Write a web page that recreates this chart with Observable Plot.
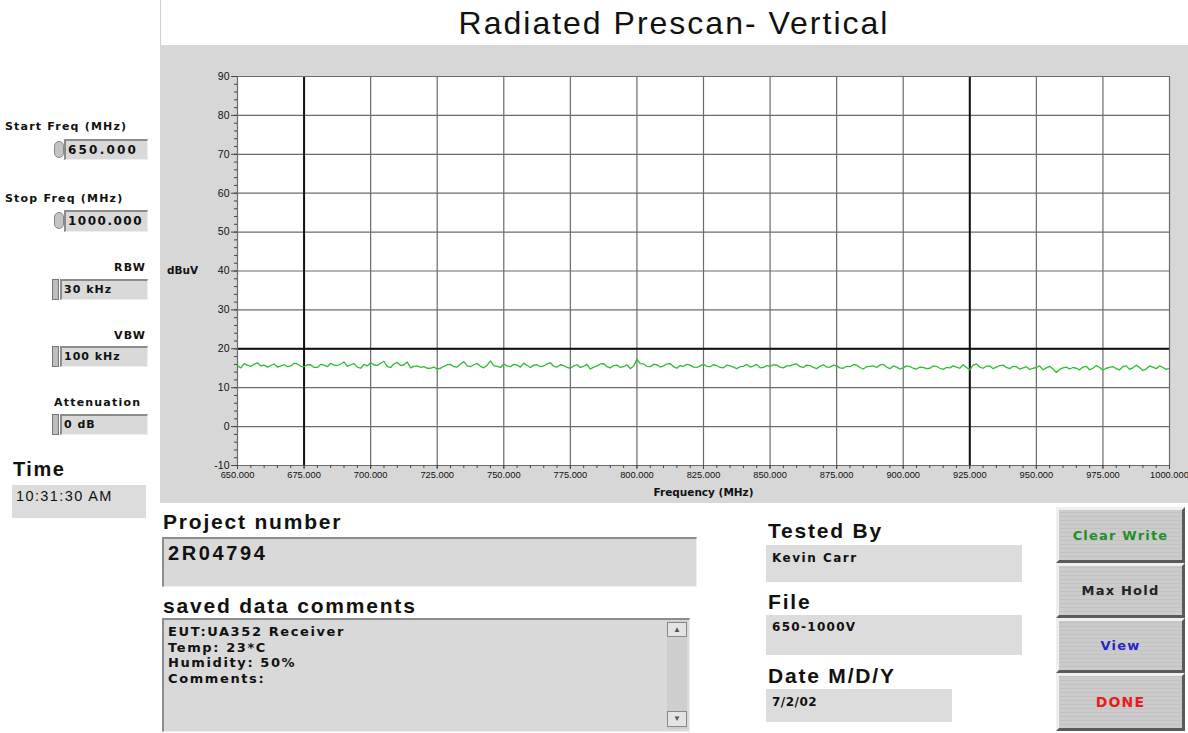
<!DOCTYPE html>
<html>
<head>
<meta charset="utf-8">
<script src="https://cdn.jsdelivr.net/npm/d3@7"></script>
<script src="https://cdn.jsdelivr.net/npm/@observablehq/plot@0.6"></script>
<style>
  html, body { margin: 0; padding: 0; background: #fff; }
  #page { position: relative; width: 1188px; height: 733px; overflow: hidden; font-family: "Liberation Sans", Arial, sans-serif; color: #111; }
  .abs { position: absolute; white-space: nowrap; line-height: 1; }
  .lbl { font-family: "DejaVu Sans", sans-serif; font-weight: bold; font-size: 11px; letter-spacing: 1.2px; }
  .field { position: absolute; background: #d9d9d9; border-top: 2px solid #8c8c8c; border-left: 2px solid #8c8c8c; border-right: 1px solid #eeeeee; border-bottom: 1px solid #eeeeee; box-sizing: border-box; }
  .ftext { position: absolute; font-family: "DejaVu Sans", sans-serif; font-weight: bold; font-size: 11px; line-height: 1; white-space: nowrap; letter-spacing: 1px; }
  .big { font-weight: bold; font-size: 21px; letter-spacing: 1.8px; }
  .flat { position: absolute; background: #dcdcdc; box-sizing: border-box; }
  .btn { position: absolute; left: 1056px; width: 129px; box-sizing: border-box; background: repeating-linear-gradient(0deg, #cbcbcb 0px, #cbcbcb 3px, #c2c2c2 3px, #c2c2c2 4px); border: 3px solid; border-color: #efefef #5a5a5a #5a5a5a #efefef; font-family: "DejaVu Sans", sans-serif; font-weight: bold; font-size: 13px; display: flex; align-items: center; justify-content: center; letter-spacing: 1.2px; }
  .spin { position: absolute; width: 7px; border: 1px solid #777; background: #bdbdbd; box-sizing: border-box; }
  .knob { position: absolute; width: 10px; height: 17px; border-radius: 5px; background: #c4c4c4; border: 1px solid #888; box-sizing: border-box; }
</style>
</head>
<body>
<div id="page">
  <!-- window edge -->
  <div class="abs" style="left:160px;top:0;width:1px;height:45px;background:#cfcfcf;"></div>
  <!-- title -->
  <div class="abs" style="left:160px;width:1028px;top:7px;text-align:center;font-size:32px;letter-spacing:2px;">Radiated Prescan- Vertical</div>

  <!-- left controls -->
  <div class="abs lbl" style="left:5px;top:121px;">Start Freq (MHz)</div>
  <div class="field" style="left:64px;top:139px;width:84px;height:21px;"></div>
  <div class="knob" style="left:54px;top:141px;"></div>
  <div class="ftext" style="left:68px;top:144px;font-size:12px;letter-spacing:2.2px;">650.000</div>

  <div class="abs lbl" style="left:5px;top:193px;">Stop Freq (MHz)</div>
  <div class="field" style="left:64px;top:210px;width:84px;height:22px;"></div>
  <div class="knob" style="left:54px;top:212px;"></div>
  <div class="ftext" style="left:68px;top:215px;font-size:12px;letter-spacing:1.5px;">1000.000</div>

  <div class="abs lbl" style="left:40px;width:106px;text-align:right;top:262px;">RBW</div>
  <div class="field" style="left:60px;top:279px;width:88px;height:21px;"></div>
  <div class="spin" style="left:52px;top:279px;height:21px;"></div>
  <div class="ftext" style="left:64px;top:284px;">30 kHz</div>

  <div class="abs lbl" style="left:40px;width:106px;text-align:right;top:330px;">VBW</div>
  <div class="field" style="left:60px;top:346px;width:88px;height:21px;"></div>
  <div class="spin" style="left:52px;top:346px;height:21px;"></div>
  <div class="ftext" style="left:64px;top:351px;">100 kHz</div>

  <div class="abs lbl" style="left:54px;top:397px;">Attenuation</div>
  <div class="field" style="left:60px;top:414px;width:88px;height:21px;"></div>
  <div class="spin" style="left:52px;top:414px;height:21px;"></div>
  <div class="ftext" style="left:64px;top:419px;">0 dB</div>

  <div class="abs" style="left:13px;top:459px;font-weight:bold;font-size:20px;letter-spacing:1.5px;">Time</div>
  <div class="flat" style="left:12px;top:485px;width:134px;height:33px;"></div>
  <div class="abs" style="left:16px;top:489px;font-size:14.5px;letter-spacing:1.4px;">10:31:30 AM</div>

  <!-- chart -->
  <div id="chart" class="abs" style="left:160px;top:45px;width:1028px;height:458px;"></div>

  <!-- bottom left -->
  <div class="abs big" style="left:163px;top:511px;">Project number</div>
  <div class="field" style="left:162px;top:537px;width:535px;height:50px;"></div>
  <div class="abs" style="left:168px;top:543px;font-weight:bold;font-size:20px;letter-spacing:2.6px;">2R04794</div>

  <div class="abs big" style="left:163px;top:595px;">saved data comments</div>
  <div class="field" style="left:162px;top:618px;width:528px;height:114px;"></div>
  <div class="abs" style="left:168px;top:624px;font-family:'DejaVu Sans',sans-serif;font-weight:bold;font-size:13px;line-height:15.5px;letter-spacing:1.6px;white-space:pre;">EUT:UA352 Receiver
Temp: 23*C
Humidity: 50%
Comments:</div>
  <div class="abs" style="left:667px;top:621px;width:20px;height:108px;background:#cfcfcf;"></div>
  <div class="abs" style="left:667px;top:622px;width:20px;height:15px;background:#e4e4e4;border:1px solid #888;box-sizing:border-box;font-size:8px;text-align:center;line-height:13px;color:#555;">&#9650;</div>
  <div class="abs" style="left:667px;top:711px;width:20px;height:16px;background:#e4e4e4;border:1px solid #888;box-sizing:border-box;font-size:8px;text-align:center;line-height:14px;color:#555;">&#9660;</div>

  <!-- bottom right -->
  <div class="abs big" style="left:768px;top:520px;">Tested By</div>
  <div class="flat" style="left:766px;top:545px;width:256px;height:37px;"></div>
  <div class="ftext" style="left:772px;top:552px;font-size:12px;letter-spacing:1.5px;">Kevin Carr</div>

  <div class="abs big" style="left:768px;top:591px;">File</div>
  <div class="flat" style="left:766px;top:615px;width:256px;height:40px;"></div>
  <div class="ftext" style="left:772px;top:621px;font-size:12px;letter-spacing:1.3px;">650-1000V</div>

  <div class="abs big" style="left:768px;top:665px;">Date M/D/Y</div>
  <div class="flat" style="left:766px;top:689px;width:186px;height:33px;"></div>
  <div class="ftext" style="left:772px;top:696px;font-size:12px;letter-spacing:0.5px;">7/2/02</div>

  <div class="btn" style="top:507px;height:56px;color:#1f8f2a;">Clear Write</div>
  <div class="btn" style="top:563px;height:55px;color:#222;">Max Hold</div>
  <div class="btn" style="top:618px;height:55px;color:#2a24c8;">View</div>
  <div class="btn" style="top:673px;height:58px;color:#e81c1c;font-size:14px;">DONE</div>
</div>

<script>
// Sweep settings (from the panel)
const startFreq = 650;
const stopFreq = 1000;
const stepFreq = 1.25;

const levels = [
  15.6, 15.1, 16.2, 15.8, 15.5, 16.0, 16.4, 15.6, 15.8, 15.3, 15.7, 16.1, 15.3, 15.6, 15.9, 15.4, 15.6, 16.3, 16.1, 15.5,
  15.4, 15.9, 15.9, 15.2, 15.2, 16.0, 15.8, 15.4, 16.3, 15.8, 15.7, 16.1, 16.6, 15.5, 15.9, 16.2, 15.3, 15.0, 16.0, 15.6,
  16.4, 15.9, 15.7, 16.3, 16.8, 15.4, 15.2, 16.1, 16.5, 15.7, 15.9, 16.6, 15.1, 15.5, 15.6, 15.2, 15.4, 15.0, 15.0, 15.3,
  14.8, 15.0, 15.5, 15.9, 16.0, 15.4, 15.3, 16.1, 16.7, 15.6, 15.4, 15.9, 16.2, 15.5, 15.1, 15.8, 16.9, 15.7, 15.5, 15.2,
  16.1, 15.6, 15.4, 16.0, 15.8, 15.3, 16.3, 15.7, 15.2, 15.8, 15.9, 15.4, 15.6, 16.1, 16.4, 15.5, 15.3, 15.9, 15.7, 15.2,
  15.0, 15.6, 15.9, 15.2, 15.5, 16.0, 14.8, 15.3, 15.6, 16.1, 16.2, 15.4, 15.1, 15.7, 15.8, 15.2, 15.4, 15.9, 14.9, 15.5,
  17.3, 16.2, 16.1, 15.5, 15.4, 16.0, 15.9, 15.3, 15.6, 16.1, 16.2, 15.4, 15.0, 15.7, 15.5, 16.0, 15.8, 15.3, 15.2, 15.6,
  16.0, 15.5, 15.4, 15.9, 15.7, 15.2, 15.1, 15.8, 15.6, 15.3, 14.9, 15.4, 15.5, 16.0, 15.3, 15.6, 16.0, 15.1, 15.2, 15.7,
  15.5, 15.9, 15.8, 15.3, 15.1, 15.6, 15.6, 16.0, 16.1, 15.4, 15.2, 15.8, 15.7, 15.2, 14.9, 15.5, 15.9, 15.3, 15.3, 15.8,
  15.6, 15.1, 15.0, 15.5, 15.4, 15.9, 15.8, 15.2, 14.8, 15.4, 15.5, 15.6, 15.2, 15.8, 16.0, 15.3, 14.9, 15.6, 15.3, 14.8,
  15.1, 15.6, 15.4, 15.0, 14.8, 15.3, 15.2, 14.9, 15.0, 15.6, 15.5, 15.0, 14.7, 15.2, 15.1, 15.6, 15.3, 15.0, 15.9, 15.2,
  14.6, 15.8, 16.1, 15.3, 15.0, 15.5, 15.6, 14.9, 15.3, 15.7, 15.8, 15.2, 14.9, 15.5, 15.4, 14.8, 15.1, 15.4, 14.7, 15.0,
  15.2, 15.6, 14.6, 15.1, 15.5, 14.8, 13.9, 14.7, 15.1, 15.3, 14.8, 15.2, 15.0, 14.6, 15.3, 15.5, 14.6, 15.0, 15.7, 15.2,
  14.5, 15.0, 15.2, 15.4, 14.9, 14.6, 15.4, 15.6, 14.7, 15.1, 15.8, 15.2, 14.4, 14.8, 15.6, 15.3, 14.9, 15.6, 15.2, 14.7,
  15.0
];

// Axis ticks
const xTicks = [650, 675, 700, 725, 750, 775, 800, 825, 850, 875, 900, 925, 950, 975, 1000];
const yTicks = [-10, 0, 10, 20, 30, 40, 50, 60, 70, 80, 90];
const xMinorTicks = d3.range(650, 1000.1, 5);
const yMinorTicks = d3.range(-10, 90.1, 2);

// Markers drawn heavier on the display
const cursorFreqs = [675, 925];
const limitLevels = [20];

const trace = levels.map((v, i) => ({ freq: startFreq + i * stepFreq, level: v }));

const chart = Plot.plot({
  width: 1028,
  height: 458,
  marginLeft: 77,
  marginRight: 19,
  marginTop: 31,
  marginBottom: 38,
  style: { background: "#d7d7d7", fontFamily: "Liberation Sans, Arial, sans-serif", fontSize: "10px", color: "#111", overflow: "visible" },
  x: { domain: [startFreq, stopFreq] },
  y: { domain: [-10, 90] },
  marks: [
    Plot.frame({ fill: "#ffffff" }),
    Plot.ruleX(xTicks, { stroke: "#6b6b6b", strokeWidth: 1.2 }),
    Plot.ruleY(yTicks, { stroke: "#6b6b6b", strokeWidth: 1.2 }),
    Plot.ruleX(cursorFreqs, { stroke: "#111", strokeWidth: 2 }),
    Plot.ruleY(limitLevels, { stroke: "#111", strokeWidth: 2 }),
    Plot.line(trace, { x: "freq", y: "level", stroke: "#2cbf2c", strokeWidth: 1.3 }),
    Plot.frame({ stroke: "#6b6b6b" }),
    Plot.axisY({ ticks: yMinorTicks, tickSize: 3, tickFormat: () => "", label: null, stroke: "#444" }),
    Plot.axisY({ ticks: yTicks, tickSize: 6, tickPadding: 2, tickFormat: d => String(d), label: null, fontSize: 10.5, stroke: "#444" }),
    Plot.axisX({ ticks: xMinorTicks, tickSize: 3, tickFormat: () => "", label: null, stroke: "#444" }),
    Plot.axisX({ ticks: xTicks, tickSize: 4, tickPadding: 2, tickFormat: d => d.toFixed(3), label: null, fontSize: 9.3, stroke: "#444" }),
    Plot.text(["dBuV"], { text: d => d, frameAnchor: "left", textAnchor: "middle", dx: -55, fontFamily: "DejaVu Sans, sans-serif", fontWeight: "bold", fontSize: 10.5 }),
    Plot.text(["Frequency (MHz)"], { text: d => d, frameAnchor: "bottom", textAnchor: "middle", dy: 30, fontFamily: "DejaVu Sans, sans-serif", fontWeight: "bold", fontSize: 10.5, style: "letter-spacing:1px" })
  ]
});
document.getElementById("chart").appendChild(chart);
</script>
</body>
</html>
